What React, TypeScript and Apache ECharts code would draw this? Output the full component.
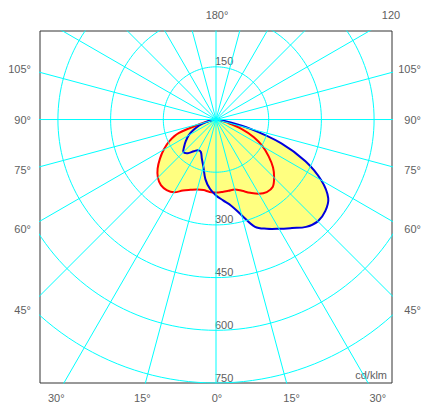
import React, { useEffect, useRef } from "react";
import * as echarts from "echarts";

// Gamma angles (degrees from nadir; negative = left half-plane)
const gammaAngles = [
  -90, -85, -80, -75, -70, -65, -60, -55, -50, -45, -40, -35, -30, -25, -20, -15, -10, -5,
  0, 5, 10, 15, 20, 25, 30, 35, 40, 45, 50, 55, 60, 65, 70, 75, 80, 85, 90,
];
// C0-C180 plane (red), cd/klm
const redValues = [
  0, 3, 12, 40, 112, 147, 172, 195, 217, 234, 244, 245, 239, 223, 213, 206, 204, 207,
  208, 207, 206, 206, 216, 230, 244, 252, 251, 234, 212, 183, 154, 119, 77, 32, 10, 2, 0,
];
// C90-C270 plane (blue), cd/klm
const blueValues = [
  0, 0, 10, 31, 52, 71, 90, 104, 118, 131, 125, 110, 101, 102, 118, 139, 173, 198,
  216, 231, 249, 282, 325, 343, 359, 377, 399, 410, 406, 390, 346, 281, 198, 100, 30, 5, 0,
];

const ringValues = [150, 300, 450, 600, 750];
const ringLabels = ["150", "300", "450", "600", "750"];
const topRingLabel = "150";
const radialStepDeg = 15;

const sideAngles = [105, 90, 75, 60, 45];
const sideLabels = ["105°", "90°", "75°", "60°", "45°"];
const bottomAngles = [-30, -15, 0, 15, 30];
const bottomLabels = ["30°", "15°", "0°", "15°", "30°"];
const topLabels = ["180°", "120"];
const unitLabel = "cd/klm";

const FONT = "'Liberation Sans', Arial, Helvetica, sans-serif";
const TEXT_COLOR = "#606060";
const GRID_COLOR = "#00ffff";

const toXY = (gammaDeg: number, v: number): [number, number] => {
  const t = (gammaDeg * Math.PI) / 180;
  return [v * Math.sin(t), -v * Math.cos(t)];
};

const curvePoints = (values: number[]) => {
  const pts: [number, number][] = [];
  gammaAngles.forEach((g, i) => {
    const p = toXY(g, values[i]);
    const last = pts[pts.length - 1];
    if (!last || Math.abs(last[0] - p[0]) > 1e-6 || Math.abs(last[1] - p[1]) > 1e-6) pts.push(p);
  });
  const f = pts[0];
  const l = pts[pts.length - 1];
  if (pts.length > 1 && Math.abs(f[0] - l[0]) < 1e-6 && Math.abs(f[1] - l[1]) < 1e-6) pts.pop();
  return pts;
};

export default function App() {
  const ref = useRef<HTMLDivElement>(null);

  useEffect(() => {
    document.body.style.margin = "0";
    if (!ref.current) return;
    const chart = echarts.init(ref.current, undefined, { renderer: "svg" });

    const redPts = curvePoints(redValues);
    const bluePts = curvePoints(blueValues);

    const polySeries = (pts: [number, number][], style: any, name: string) => ({
      type: "custom",
      name,
      coordinateSystem: "cartesian2d",
      silent: true,
      data: [[0, 0]],
      renderItem: (_p: any, api: any) => ({
        type: "polygon",
        shape: { points: pts.map((p) => api.coord(p)), smooth: 0.35 },
        style,
      }),
    });

    const ringSeries = ringValues.map((r) => {
      const data: [number, number][] = [];
      for (let d = 0; d <= 360; d += 2) data.push(toXY(d, r));
      return {
        type: "line",
        data,
        showSymbol: false,
        silent: true,
        clip: true,
        lineStyle: { color: GRID_COLOR, width: 1 },
      };
    });

    const radialSeries: any[] = [];
    for (let d = 0; d < 360; d += radialStepDeg) {
      radialSeries.push({
        type: "line",
        data: [[0, 0], toXY(d, 1400)],
        showSymbol: false,
        silent: true,
        clip: true,
        lineStyle: { color: GRID_COLOR, width: 1 },
      });
    }

    chart.setOption({
      animation: false,
      grid: {
        left: 40,
        top: 31,
        width: 352,
        height: 352,
        show: true,
        borderColor: "#333",
        borderWidth: 1,
      },
      xAxis: { type: "value", min: -501, max: 501, show: false },
      yAxis: { type: "value", min: -750, max: 252, show: false },
      series: [
        polySeries(redPts, { fill: "#ffff80", stroke: "none" }, "redFill"),
        polySeries(bluePts, { fill: "#ffff80", stroke: "none" }, "blueFill"),
        ...ringSeries,
        ...radialSeries,
        polySeries(redPts, { fill: "none", stroke: "#ff0000", lineWidth: 2 }, "red"),
        polySeries(bluePts, { fill: "none", stroke: "#0000dd", lineWidth: 2 }, "blue"),
      ],
    });

    const [cx, cy] = chart.convertToPixel({ gridIndex: 0 }, [0, 0]) as number[];
    const [gx0, gy0] = chart.convertToPixel({ gridIndex: 0 }, [-501, 252]) as number[];
    const [gx1, gy1] = chart.convertToPixel({ gridIndex: 0 }, [501, -750]) as number[];

    const txt = (text: string, x: number, y: number, align: string) => ({
      type: "text",
      x,
      y,
      silent: true,
      style: {
        text,
        fill: TEXT_COLOR,
        font: `11px ${FONT}`,
        align,
        verticalAlign: "middle",
      },
    });

    const graphics: any[] = [];
    ringValues.forEach((r, i) => {
      const y = (chart.convertToPixel({ gridIndex: 0 }, [0, -r]) as number[])[1];
      graphics.push(txt(ringLabels[i], cx - 1, y - 5.5, "left"));
    });
    const yTop = (chart.convertToPixel({ gridIndex: 0 }, [0, ringValues[0]]) as number[])[1];
    graphics.push(txt(topRingLabel, cx - 1, yTop - 5.5, "left"));

    const D = cx - 26;
    sideAngles.forEach((a, i) => {
      const t = (a * Math.PI) / 180;
      const y = cy + (D * Math.cos(t)) / Math.sin(t);
      graphics.push(txt(sideLabels[i], gx0 - 9, y, "right"));
      graphics.push(txt(sideLabels[i], gx1 + 29, y, "right"));
    });

    const by = gy1 + 15;
    bottomAngles.forEach((a, i) => {
      const t = (a * Math.PI) / 180;
      const x = cx + (by - cy) * Math.tan(t);
      graphics.push(txt(bottomLabels[i], x + 1, by, "center"));
    });

    const ty = gy0 - 16;
    graphics.push(txt(topLabels[0], cx + 1, ty, "center"));
    graphics.push(txt(topLabels[1], gx1 - 1, ty, "center"));
    graphics.push(txt(unitLabel, gx1 - 5, gy1 - 8, "right"));

    chart.setOption({ graphic: graphics });

    return () => chart.dispose();
  }, []);

  return (
    <div
      ref={ref}
      style={{ position: "absolute", left: 0, top: 0, width: 423, height: 405 }}
    />
  );
}
